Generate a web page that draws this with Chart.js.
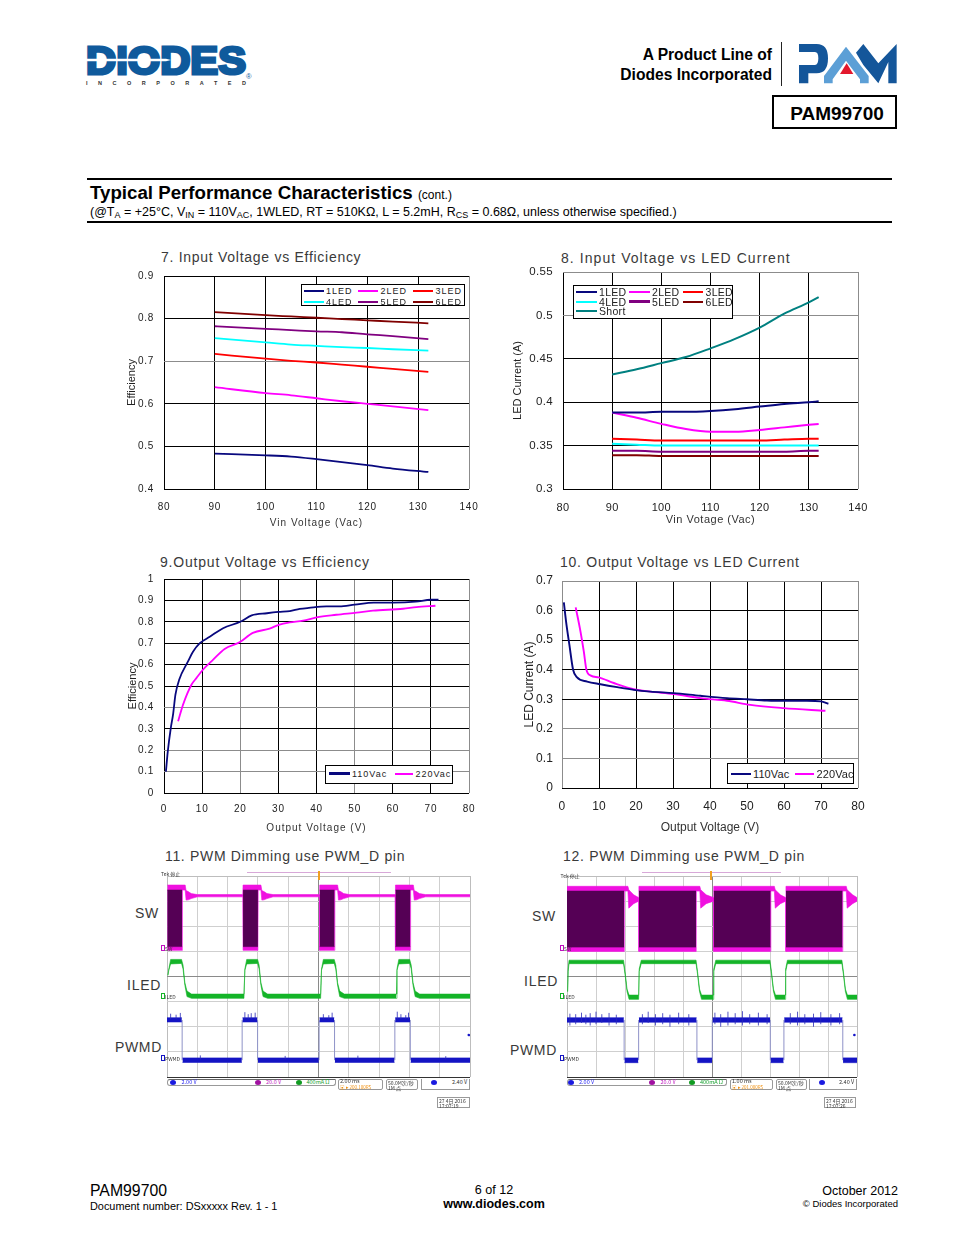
<!DOCTYPE html>
<html><head><meta charset="utf-8">
<script src="https://cdn.jsdelivr.net/npm/chart.js@4"></script>
<style>
html,body{margin:0;padding:0;background:#fff}
body{position:relative;width:954px;height:1235px;overflow:hidden;font-family:"Liberation Sans",Arial,sans-serif;color:#000}
.ct{position:absolute;white-space:nowrap;line-height:1;transform:translateY(-50%);font-size:14px;color:#3a3a3a}
.t{position:absolute;white-space:nowrap;line-height:1;transform:translateY(-50%)}
.r{transform:translate(-100%,-50%)}
.c{transform:translate(-50%,-50%)}
.box{position:absolute;box-sizing:border-box}
canvas{position:absolute;display:block}
.leg{position:absolute;box-sizing:border-box;background:#fff;border:1px solid #000;z-index:5}
.leg i{position:absolute;display:block}
.leg span{position:absolute;line-height:1;white-space:nowrap;transform:translateY(-50%);color:#222}
sub{font-size:9px;vertical-align:baseline;position:relative;top:1.5px}
</style></head>
<body>
<!-- header -->
<svg style="position:absolute;left:0;top:0" width="954" height="140" viewBox="0 0 954 140">
  <text x="86" y="74" font-family="Liberation Sans" font-weight="700" font-size="39" fill="#0f5a9c" stroke="#0f5a9c" stroke-width="3" textLength="160" lengthAdjust="spacingAndGlyphs">DIODES</text>
  <path d="M84,58.7 H166 L171,60 L166,61.3 H84 Z" fill="#fff"/>
  <text x="246" y="79" font-family="Liberation Sans" font-size="7.5" fill="#0f5a9c">®</text>
  <text x="86" y="85" font-family="Liberation Sans" font-weight="700" font-size="5.5" fill="#333" textLength="160">INCORPORATED</text>
  <g transform="translate(600,30) scale(.33333)">
    <path d="M597,42 H650 Q684,42 684,85 Q684,130 650,130 H625 V160 H597 V105 H645 Q655,105 655,85 Q655,66 645,66 H597 Z" fill="#14569a"/>
    <path d="M672,160 V138 L738,50 L806,138 V160 H780 V148 L738,92 L698,148 V160 Z" fill="#5c9fd6"/>
    <path d="M740,100 L760,132 H720 Z" fill="#e3182d"/>
    <path d="M768,68 L790,42 L835,100 L890,42 V160 H865 V96 L835,160 L790,105 Z" fill="#14569a"/>
  </g>
</svg>
<div class="t r" style="left:772px;top:55px;font-size:15.6px;font-weight:700">A Product Line of</div>
<div class="t r" style="left:772px;top:75px;font-size:15.6px;font-weight:700">Diodes Incorporated</div>
<div class="box" style="left:781px;top:42px;width:1px;height:44px;background:#222"></div>
<div class="box" style="left:772px;top:95px;width:125px;height:34px;border:2px solid #000"></div>
<div class="t c" style="left:837px;top:112.5px;font-size:19px;font-weight:700">PAM99700</div>

<div class="box" style="left:87px;top:178px;width:805px;height:2px;background:#000"></div>
<div class="t" style="left:90px;top:193px;font-size:18.7px;font-weight:700">Typical Performance Characteristics <span style="font-size:12px;font-weight:400">(cont.)</span></div>
<div class="t" style="left:90px;top:212px;font-size:12.5px">(@T<sub>A</sub> = +25°C, V<sub>IN</sub> = 110V<sub>AC</sub>, 1WLED, RT = 510KΩ, L = 5.2mH, R<sub>CS</sub> = 0.68Ω, unless otherwise specified.)</div>
<div class="box" style="left:87px;top:221px;width:805px;height:2px;background:#000"></div>

<!-- chart titles -->
<div class="ct" style="left:161px;top:257px;letter-spacing:.72px">7. Input Voltage vs Efficiency</div>
<div class="ct" style="left:561px;top:258px;letter-spacing:1.06px">8. Input Voltage vs LED Current</div>
<div class="ct" style="left:160px;top:562px;letter-spacing:.8px">9.Output Voltage vs Efficiency</div>
<div class="ct" style="left:560px;top:562px;letter-spacing:.73px">10. Output Voltage vs LED Current</div>
<div class="ct" style="left:165px;top:856px;letter-spacing:.67px">11. PWM Dimming use PWM_D pin</div>
<div class="ct" style="left:563px;top:856px;letter-spacing:.7px">12. PWM Dimming use PWM_D pin</div>

<!-- scope side labels -->
<div class="ct r" style="left:159px;top:913px;letter-spacing:.7px">SW</div>
<div class="ct r" style="left:161px;top:985px;letter-spacing:.7px">ILED</div>
<div class="ct r" style="left:162px;top:1047px;letter-spacing:.7px">PWMD</div>
<div class="ct r" style="left:556px;top:916px;letter-spacing:.7px">SW</div>
<div class="ct r" style="left:558px;top:981px;letter-spacing:.7px">ILED</div>
<div class="ct r" style="left:557px;top:1050px;letter-spacing:.7px">PWMD</div>

<!-- footer -->
<div class="t" style="left:90px;top:1191px;font-size:15.8px">PAM99700</div>
<div class="t" style="left:90px;top:1206px;font-size:10.9px">Document number: DSxxxxx Rev. 1 - 1</div>
<div class="t c" style="left:494px;top:1190px;font-size:12.6px">6 of 12</div>
<div class="t c" style="left:494px;top:1204px;font-size:12.5px;font-weight:700">www.diodes.com</div>
<div class="t r" style="left:898px;top:1191px;font-size:12.5px">October 2012</div>
<div class="t r" style="left:898px;top:1204px;font-size:9.5px">© Diodes Incorporated</div>

<script>
/* ---------- chart 7 ---------- */
const x7 = [90,100,105,110,115,120,125,132];
const eff1Led = [.483,.479,.476,.470,.463,.456,.448,.440];
const eff2Led = [.639,.625,.620,.613,.606,.600,.594,.585];
const eff3Led = [.717,.706,.701,.697,.692,.687,.682,.675];
const eff4Led = [.754,.744,.739,.736,.733,.731,.728,.725];
const eff5Led = [.782,.776,.773,.770,.768,.763,.759,.752];
const eff6Led = [.815,.808,.805,.802,.799,.796,.793,.789];
/* ---------- chart 8 ---------- */
const x8 = [90,95,100,105,110,115,120,125,130,132];
const cur1Led = [.388,.388,.389,.389,.390,.392,.395,.398,.400,.401];
const cur2Led = [.388,.382,.375,.369,.366,.366,.368,.371,.374,.375];
const cur3Led = [.358,.357,.356,.356,.356,.356,.356,.357,.358,.358];
const cur4Led = [.352,.351,.350,.350,.350,.350,.350,.350,.350,.350];
const cur5Led = [.344,.344,.343,.343,.343,.343,.343,.343,.344,.344];
const cur6Led = [.339,.339,.338,.338,.338,.338,.338,.338,.338,.338];
const curShort = [.432,.438,.445,.452,.462,.473,.486,.502,.515,.521];
/* ---------- chart 9 ---------- */
const x9a = [.5,1,1.75,2.4,3,4,6.3,7.6,9.4,12,15.5,20,23,27,30,33,35.6,38,42.6,46,50,55,60,66,70,72];
const eff110 = [.10,.195,.30,.37,.46,.53,.615,.66,.70,.73,.77,.80,.83,.84,.846,.85,.86,.865,.872,.872,.88,.89,.89,.894,.903,.903];
const x9b = [3.7,5,7.2,8.5,10.2,12.9,15.9,19.8,23.3,27.7,30.3,33,36.5,40,45.2,50.5,54.8,62.7,66.2,71.2];
const eff220 = [.335,.413,.506,.537,.576,.623,.673,.704,.748,.768,.787,.797,.805,.821,.833,.843,.852,.861,.869,.875];
/* ---------- chart 10 ---------- */
const x10a = [.5,1.1,2,3,4,6.8,10.4,14.9,19.4,23.9,30.2,37.4,44.6,50,55.4,60.8,66.2,70,72];
const cur110 = [.628,.563,.484,.40,.375,.36,.351,.341,.332,.326,.321,.312,.304,.30,.296,.295,.295,.293,.285];
const x10b = [3.7,5,5.9,6.6,7.8,9.9,14,19.4,23.9,30.2,37.4,44.6,50.9,59.9,71.2];
const cur220 = [.611,.529,.461,.40,.38,.374,.355,.334,.326,.318,.304,.295,.281,.27,.261];

/* ---------- scope 11 (x, y in graticule divisions) ---------- */
const sw11X = [.01,.50,.51,.60,.63,.70,.80,1.00,2.50, 2.51,3.00,3.01,3.10,3.13,3.20,3.30,3.50,5.03, 5.04,5.53,5.54,5.63,5.66,5.73,5.83,6.03,7.53, 7.54,8.03,8.04,8.13,8.16,8.23,8.33,8.53,10];
const sw11Top = [7.64,7.64,7.64,7.64,7.42,7.38,7.30,7.26,7.26, 7.64,7.64,7.64,7.64,7.42,7.38,7.30,7.26,7.26, 7.64,7.64,7.64,7.64,7.42,7.38,7.30,7.26,7.26, 7.64,7.64,7.64,7.64,7.42,7.38,7.30,7.26,7.26];
const sw11Bot = [5.04,5.04,7.44,7.44,7.04,7.05,7.10,7.17,7.17, 5.04,5.04,7.44,7.44,7.04,7.05,7.10,7.17,7.17, 5.04,5.04,7.44,7.44,7.04,7.05,7.10,7.17,7.17, 5.04,5.04,7.44,7.44,7.04,7.05,7.10,7.17,7.17];
const dark11X = [.01,.50,.50, 2.51,3.00,3.00, 5.04,5.53,5.53, 7.54,8.03,8.03];
const dark11Hi = [7.44,7.44,null, 7.44,7.44,null, 7.44,7.44,null, 7.44,7.44,null];
const dark11Lo = [5.19,5.19,null, 5.19,5.19,null, 5.19,5.19,null, 5.19,5.19,null];
const led11X = [.03,.06,.12,.48,.53,.59,.66,.81, 2.54,2.57,2.63,2.99,3.04,3.10,3.17,3.32, 5.07,5.10,5.16,5.52,5.57,5.63,5.70,5.85, 7.56,7.59,7.65,8.01,8.06,8.12,8.19,8.34, 10];
const led11Top = [4.05,4.3,4.68,4.68,4.45,3.75,3.42,3.30, 3.30,4.3,4.68,4.68,4.45,3.75,3.42,3.30, 3.30,4.3,4.68,4.68,4.45,3.75,3.42,3.30, 3.30,4.3,4.68,4.68,4.45,3.75,3.42,3.30, 3.30];
const led11Bot = [4.05,4.25,4.50,4.52,4.30,3.65,3.20,3.13, 3.13,4.25,4.50,4.52,4.30,3.65,3.20,3.13, 3.13,4.25,4.50,4.52,4.30,3.65,3.20,3.13, 3.13,4.25,4.50,4.52,4.30,3.65,3.20,3.13, 3.13];
const pwm11X = [0,.49,.49, .51,2.47,2.47, 2.49,2.98,2.98, 3.00,5.01,5.01, 5.03,5.52,5.52, 5.54,7.51,7.51, 7.53,8.02,8.02, 8.04,10,10];
const pwm11Top = [2.36,2.36,null, .76,.76,null, 2.36,2.36,null, .76,.76,null, 2.36,2.36,null, .76,.76,null, 2.36,2.36,null, .76,.76,null];
const pwm11Bot = [2.19,2.19,null, .58,.58,null, 2.19,2.19,null, .58,.58,null, 2.19,2.19,null, .58,.58,null, 2.19,2.19,null, .58,.58,null];
const edge11X = [.5,.5,.5, 2.48,2.48,2.48, 2.99,2.99,2.99, 5.02,5.02,5.02, 5.53,5.53,5.53, 7.52,7.52,7.52, 8.03,8.03,8.03];
const edge11Y = [.67,2.27,null, .67,2.27,null, .67,2.27,null, .67,2.27,null, .67,2.27,null, .67,2.27,null, .67,2.27,null];
const spk11X = [.12,.12,.12, .30,.30,.30, .44,.44,.44, 2.57,2.57,2.57, 2.68,2.68,2.68, 2.78,2.78,2.78, 2.91,2.91,2.91, 5.16,5.16,5.16, 5.34,5.34,5.34, 5.45,5.45,5.45, 7.60,7.60,7.60, 7.72,7.72,7.72, 7.88,7.88,7.88, 7.97,7.97,7.97, 1.1,1.1,1.1, 3.9,3.9,3.9, 6.3,6.3,6.3, 9.2,9.2,9.2];
const spk11Y = [2.3,2.52,null, 2.3,2.48,null, 2.3,2.55,null, 2.3,2.58,null, 2.3,2.5,null, 2.3,2.54,null, 2.3,2.56,null, 2.3,2.5,null, 2.3,2.46,null, 2.3,2.56,null, 2.3,2.6,null, 2.3,2.5,null, 2.3,2.46,null, 2.3,2.56,null, .7,.86,null, .7,.84,null, .7,.85,null, .7,.83,null];
const mark11X = [9.96]; const mark11Y = [1.67];

/* ---------- scope 12 ---------- */
const sw12X = [0,1.97,1.98,2.10,2.13,2.30,2.47, 2.48,4.45,4.46,4.58,4.61,4.80,5.05, 5.06,7.02,7.03,7.15,7.18,7.36,7.54, 7.55,9.50,9.51,9.63,9.66,9.85,10];
const sw12Top = [7.59,7.59,7.59,7.59,7.45,7.25,7.14, 7.59,7.59,7.59,7.59,7.45,7.25,7.14, 7.59,7.59,7.59,7.59,7.45,7.25,7.14, 7.59,7.59,7.59,7.59,7.45,7.25,7.14];
const sw12Bot = [5.00,5.00,7.40,7.40,6.72,6.90,7.00, 5.00,5.00,7.40,7.40,6.72,6.90,7.00, 5.00,5.00,7.40,7.40,6.72,6.90,7.00, 5.00,5.00,7.40,7.40,6.72,6.90,7.00];
const dark12X = [0,1.97,1.97, 2.48,4.45,4.45, 5.06,7.02,7.02, 7.55,9.50,9.50];
const dark12Hi = [7.40,7.40,null, 7.40,7.40,null, 7.40,7.40,null, 7.40,7.40,null];
const dark12Lo = [5.17,5.17,null, 5.17,5.17,null, 5.17,5.17,null, 5.17,5.17,null];
const led12X = [.02,.04,.07,1.95,2.00,2.07,2.14, 2.47,2.49,2.56,4.45,4.50,4.57,4.64, 5.04,5.06,5.13,7.00,7.05,7.12,7.19, 7.52,7.54,7.60,9.48,9.53,9.60,9.67, 10];
const led12Top = [3.4,4.3,4.65,4.65,4.2,3.5,3.26, 3.26,4.3,4.65,4.65,4.2,3.5,3.26, 3.26,4.3,4.65,4.65,4.2,3.5,3.26, 3.26,4.3,4.65,4.65,4.2,3.5,3.26, 3.26];
const led12Bot = [3.4,4.2,4.51,4.51,4.1,3.4,3.09, 3.09,4.2,4.51,4.51,4.1,3.4,3.09, 3.09,4.2,4.51,4.51,4.1,3.4,3.09, 3.09,4.2,4.51,4.51,4.1,3.4,3.09, 3.09];
const pwm12X = [0,1.96,1.96, 1.98,2.46,2.46, 2.48,4.47,4.47, 4.49,5.00,5.00, 5.02,7.00,7.00, 7.02,7.47,7.47, 7.49,9.50,9.50, 9.52,10,10];
const pwm12Top = [2.36,2.36,null, .76,.76,null, 2.36,2.36,null, .76,.76,null, 2.36,2.36,null, .76,.76,null, 2.36,2.36,null, .76,.76,null];
const pwm12Bot = [2.18,2.18,null, .57,.57,null, 2.18,2.18,null, .57,.57,null, 2.18,2.18,null, .57,.57,null, 2.18,2.18,null, .57,.57,null];
const edge12X = [1.97,1.97,1.97, 2.47,2.47,2.47, 4.48,4.48,4.48, 5.01,5.01,5.01, 7.01,7.01,7.01, 7.48,7.48,7.48, 9.51,9.51,9.51];
const edge12Y = [.67,2.27,null, .67,2.27,null, .67,2.27,null, .67,2.27,null, .67,2.27,null, .67,2.27,null, .67,2.27,null];
const spk12X = [.1,.1,.1, .3,.3,.3, .5,.5,.5, .65,.65,.65, .8,.8,.8, 1.0,1.0,1.0, 1.2,1.2,1.2, 1.45,1.45,1.45, 1.7,1.7,1.7, 2.6,2.6,2.6, 2.8,2.8,2.8, 3.05,3.05,3.05, 3.3,3.3,3.3, 3.55,3.55,3.55, 3.85,3.85,3.85, 4.2,4.2,4.2, 5.1,5.1,5.1, 5.3,5.3,5.3, 5.55,5.55,5.55, 5.8,5.8,5.8, 6.05,6.05,6.05, 6.3,6.3,6.3, 6.6,6.6,6.6, 6.9,6.9,6.9, 7.7,7.7,7.7, 7.95,7.95,7.95, 8.2,8.2,8.2, 8.5,8.5,8.5, 8.75,8.75,8.75, 9.1,9.1,9.1, 9.4,9.4,9.4];
const spk12Y = [2.05,2.52,null, 2.1,2.5,null, 2.15,2.56,null, 2.1,2.48,null, 2.05,2.54,null, 2.1,2.6,null, 2.15,2.5,null, 2.05,2.55,null, 2.1,2.48,null, 2.1,2.5,null, 2.15,2.6,null, 2.05,2.5,null, 2.1,2.54,null, 2.0,2.48,null, 2.1,2.56,null, 2.05,2.5,null, 2.1,2.56,null, 2.0,2.5,null, 2.05,2.6,null, 2.1,2.54,null, 2.05,2.62,null, 2.1,2.5,null, 2.05,2.56,null, 2.1,2.5,null, 2.1,2.54,null, 2.05,2.6,null, 2.1,2.5,null, 2.0,2.52,null, 2.1,2.58,null, 2.05,2.5,null, 2.1,2.54,null];
const mark12X = [9.91]; const mark12Y = [1.67];

/* ---------- styles ---------- */
const NAVY='#08087e', MAG='#ff00ff', RED='#ff0000', CYAN='#00ffff', PURP='#800080', DRED='#800000', TEAL='#008080';
const FONT='"Liberation Sans", Arial, sans-serif';
Chart.defaults.animation=false;
Chart.defaults.font.family=FONT;

const zip=(xs,ys)=>xs.map((x,i)=>({x,y:ys[i]}));
const near=(list,v)=>list.some(a=>Math.abs(a-v)<1e-6);

function mkCanvas(l,t,w,h){
  const c=document.createElement('canvas');
  c.width=w;c.height=h;c.style.left=l+'px';c.style.top=t+'px';c.style.width=w+'px';c.style.height=h+'px';
  document.body.appendChild(c);return c;
}
const spacingPlugin=sp=>({id:'sp',beforeDraw(ch){ch.ctx.letterSpacing=sp+'px';}});
/* per-scale title letter spacing */
function titleSpacing(s,sp){
  if(s._tsp)return; s._tsp=true;
  const d=s.drawTitle.bind(s);
  s.drawTitle=(...a)=>{const c=s.ctx,p=c.letterSpacing;c.letterSpacing=sp+'px';d(...a);c.letterSpacing=p;};
}

function lineChart(o){
  const [pl,pt,pr,pb]=o.plot;
  const cl=Math.round(o.yTitleX-o.yTitleSize*.6), cb=Math.round(o.xTitleY+o.xTitleSize*.6);
  const ct=pt-20, cr=pr+26;
  const ds=o.series.map(s=>({label:s.n,data:zip(s.x,s.y),borderColor:s.c,borderWidth:s.w||o.lw||1.6,pointRadius:0,cubicInterpolationMode:'monotone',fill:false}));
  const ch=new Chart(mkCanvas(cl,ct,cr-cl,cb-ct),{
    type:'line',
    data:{datasets:ds},
    plugins:[spacingPlugin(o.sp||0)],
    options:{responsive:false,maintainAspectRatio:false,
      layout:{autoPadding:false,padding:{top:pt-ct,right:cr-pr,left:0,bottom:0}},
      plugins:{legend:{display:false},tooltip:{enabled:false}},
      scales:{
        x:{type:'linear',min:o.xr[0],max:o.xr[1],
          afterFit:s=>{s.height=cb-pb;titleSpacing(s,o.xTitleSp||0);},
          border:{display:false},
          grid:{drawTicks:false,lineWidth:1,color:c=>near(o.greyX||[],c.tick.value)?'#8c8c8c':'#000'},
          ticks:{stepSize:10,autoSkip:false,maxRotation:0,padding:o.xPad,color:'#222',font:{size:o.tick}},
          title:{display:true,text:o.xTitle,color:'#333',padding:0,font:{size:o.xTitleSize}}},
        y:{type:'linear',min:o.yr[0],max:o.yr[1],
          afterFit:s=>{s.width=pl-cl;titleSpacing(s,0);},
          border:{display:false},
          grid:{drawTicks:false,lineWidth:1,color:c=>near(o.greyY||[],c.tick.value)?'#8c8c8c':'#000'},
          ticks:{stepSize:o.yStep,autoSkip:false,padding:o.yPad,color:'#222',font:{size:o.yTick||o.tick},callback:v=>String(+(+v).toFixed(2))},
          title:{display:true,text:o.yTitle,color:'#222',padding:0,font:{size:o.yTitleSize}}}
      }}
  });
  /* the layout reserves extra room for the top tick label: correct the padding to hit the plot top */
  const want=pt-ct;
  for(let i=0;i<4;i++){
    const diff=ch.scales.y.getPixelForValue(o.yr[1])-want;
    if(Math.abs(diff)<.01)break;
    ch.options.layout.padding.top-=diff;
    ch.update();
  }
}
function legend(o){
  const d=document.createElement('div');d.className='leg';
  d.style.cssText=`left:${o.l}px;top:${o.t}px;width:${o.w}px;height:${o.h}px`;
  o.items.forEach(it=>{
    const i=document.createElement('i');
    i.style.cssText=`left:${it.x0-o.l-1}px;width:${it.x1-it.x0}px;top:${it.y-o.t-1-(it.lw||2)/2}px;height:${it.lw||2}px;background:${it.c}`;
    d.appendChild(i);
    const s=document.createElement('span');s.textContent=it.n;
    s.style.cssText=`left:${it.x1+2.5-o.l-1}px;top:${it.y-o.t-1}px;font-size:${o.size}px;letter-spacing:${o.sp||0}px`;
    d.appendChild(s);
  });
  document.body.appendChild(d);
}

lineChart({plot:[164,276,469,489],xr:[80,140],yr:[.4,.9],yStep:.1,tick:10,sp:.7,xPad:12,yPad:10,lw:1.8,
  xTitle:'Vin Voltage (Vac)',xTitleSize:10,xTitleY:523,xTitleSp:1,yTitle:'Efficiency',yTitleSize:11,yTitleX:131.7,greyY:[.7],greyX:[140],
  series:[{n:'1LED',x:x7,y:eff1Led,c:NAVY},{n:'2LED',x:x7,y:eff2Led,c:MAG},{n:'3LED',x:x7,y:eff3Led,c:RED},{n:'4LED',x:x7,y:eff4Led,c:CYAN},{n:'5LED',x:x7,y:eff5Led,c:PURP},{n:'6LED',x:x7,y:eff6Led,c:DRED}]});
lineChart({plot:[563,272,858,489],xr:[80,140],yr:[.3,.55],yStep:.05,tick:11,yTick:11.5,sp:.35,xPad:12.4,yPad:10,lw:2,
  xTitle:'Vin Votage (Vac)',xTitleSize:11,xTitleY:520,xTitleSp:.5,yTitle:'LED Current (A)',yTitleSize:11,yTitleX:518,greyY:[.55,.5],greyX:[140],
  series:[{n:'1LED',x:x8,y:cur1Led,c:NAVY},{n:'2LED',x:x8,y:cur2Led,c:MAG},{n:'3LED',x:x8,y:cur3Led,c:RED},{n:'4LED',x:x8,y:cur4Led,c:CYAN},{n:'5LED',x:x8,y:cur5Led,c:PURP},{n:'6LED',x:x8,y:cur6Led,c:DRED},{n:'Short',x:x8,y:curShort,c:TEAL}]});
lineChart({plot:[164,579,469,793],xr:[0,80],yr:[0,1],yStep:.1,tick:10,sp:.7,xPad:10,yPad:10,lw:1.8,
  xTitle:'Output Voltage (V)',xTitleSize:10,xTitleY:828,xTitleSp:1,yTitle:'Efficiency',yTitleSize:11,yTitleX:132.7,greyX:[20,50,80],greyY:[.4,.2,.1],
  series:[{n:'110Vac',x:x9a,y:eff110,c:NAVY},{n:'220Vac',x:x9b,y:eff220,c:MAG}]});
lineChart({plot:[562,581,858,788],xr:[0,80],yr:[0,.7],yStep:.1,tick:12,sp:.1,xPad:11.5,yPad:9,lw:1.9,
  xTitle:'Output Voltage (V)',xTitleSize:12,xTitleY:828,xTitleSp:0,yTitle:'LED Current (A)',yTitleSize:12,yTitleX:529.3,greyX:[0,80],greyY:[.7,.2,.1],
  series:[{n:'110Vac',x:x10a,y:cur110,c:NAVY},{n:'220Vac',x:x10b,y:cur220,c:MAG}]});

legend({l:301,t:284,w:164,h:22,size:9,sp:1,items:[
 {n:'1LED',x0:304,x1:323.5,y:291,c:NAVY,lw:2.5},{n:'2LED',x0:358,x1:378,y:291,c:MAG},{n:'3LED',x0:413,x1:433,y:291,c:RED},
 {n:'4LED',x0:304,x1:323.5,y:301.5,c:CYAN},{n:'5LED',x0:358,x1:378,y:301.5,c:PURP},{n:'6LED',x0:413,x1:433,y:301.5,c:DRED}]});
legend({l:573,t:285,w:160,h:34,size:10.5,sp:.3,items:[
 {n:'1LED',x0:576,x1:596.5,y:292,c:NAVY,lw:2.5},{n:'2LED',x0:629,x1:649.5,y:292,c:MAG},{n:'3LED',x0:683,x1:703,y:292,c:RED},
 {n:'4LED',x0:576,x1:596.5,y:301.5,c:CYAN},{n:'5LED',x0:629,x1:649.5,y:301.5,c:PURP,lw:2.5},{n:'6LED',x0:683,x1:703,y:301.5,c:DRED},
 {n:'Short',x0:576,x1:596.5,y:311,c:TEAL}]});
legend({l:325,t:765,w:128,h:19,size:9,sp:1,items:[
 {n:'110Vac',x0:329,x1:349.5,y:773.5,c:NAVY,lw:2.5},{n:'220Vac',x0:395,x1:413,y:773.5,c:MAG}]});
legend({l:727,t:763,w:127,h:21,size:11,sp:.1,items:[
 {n:'110Vac',x0:731,x1:750.5,y:774,c:NAVY,lw:2.5},{n:'220Vac',x0:795,x1:814,y:774,c:MAG}]});

function scope(o){
  const [pl,pt,pr,pb]=o.plot, cl=pl-1, ct=pt-1, w=pr-pl+2, h=pb-pt+2;
  const base={pointRadius:0,tension:0,spanGaps:false};
  const band=(xs,top,bot,c)=>[
    {...base,data:zip(xs,top),borderColor:c,borderWidth:.6,fill:'+1',backgroundColor:c},
    {...base,data:zip(xs,bot),borderColor:c,borderWidth:.6,fill:false}];
  const datasets=[
    {...base,data:zip(o.markX,o.markY),showLine:false,pointRadius:1.3,pointBackgroundColor:'#1414c8',pointBorderWidth:0},
    {...base,data:zip(o.spkX,o.spkY),borderColor:'#2a2ab8',borderWidth:.8,fill:false},
    ...band(o.pwmX,o.pwmTop,o.pwmBot,'#1414c4'),
    {...base,data:zip(o.edgeX,o.edgeY),borderColor:'#8e92c8',borderWidth:1,fill:false},
    ...band(o.ledX,o.ledTop,o.ledBot,'#14b428'),
    ...band(o.darkX,o.darkHi,o.darkLo,'#550055'),
    ...band(o.swX,o.swTop,o.swBot,'#f010e0')
  ];
  new Chart(mkCanvas(cl,ct,w,h),{
    type:'line',data:{datasets},
    options:{responsive:false,maintainAspectRatio:false,
      layout:{autoPadding:false,padding:{left:1,right:1,top:1,bottom:1}},
      plugins:{legend:{display:false},tooltip:{enabled:false}},
      scales:{
        x:{type:'linear',min:0,max:10,afterFit:s=>{s.height=0;},border:{display:false},
          ticks:{display:false,stepSize:1,autoSkip:false},
          grid:{drawTicks:false,lineWidth:1,color:c=>c.tick.value===5?'#8a8a8a':(c.tick.value===0||c.tick.value===10?'#bdbdbd':'#cfcfcf'),
                borderDash:c=>(c.tick.value===5||c.tick.value===0||c.tick.value===10)?[]:[1,14]}},
        y:{type:'linear',min:0,max:8,afterFit:s=>{s.width=0;},border:{display:false},
          ticks:{display:false,stepSize:1,autoSkip:false},
          grid:{drawTicks:false,lineWidth:1,color:c=>c.tick.value===0?'#333':(c.tick.value===8?'#bdbdbd':(c.tick.value===4?'#8a8a8a':'#cfcfcf')),
                borderDash:c=>(c.tick.value===0||c.tick.value===8)?[]:(c.tick.value===4?[1,3]:[1,14])}}
      }}
  });
}
scope({plot:[167,876,470,1077],swX:sw11X,swTop:sw11Top,swBot:sw11Bot,darkX:dark11X,darkHi:dark11Hi,darkLo:dark11Lo,ledX:led11X,ledTop:led11Top,ledBot:led11Bot,
  pwmX:pwm11X,pwmTop:pwm11Top,pwmBot:pwm11Bot,edgeX:edge11X,edgeY:edge11Y,spkX:spk11X,spkY:spk11Y,markX:mark11X,markY:mark11Y});
scope({plot:[567,876,857,1077],swX:sw12X,swTop:sw12Top,swBot:sw12Bot,darkX:dark12X,darkHi:dark12Hi,darkLo:dark12Lo,ledX:led12X,ledTop:led12Top,ledBot:led12Bot,
  pwmX:pwm12X,pwmTop:pwm12Top,pwmBot:pwm12Bot,edgeX:edge12X,edgeY:edge12Y,spkX:spk12X,spkY:spk12Y,markX:mark12X,markY:mark12Y});

/* scope annotations */
function tiny(x,y,s,c,size){const d=document.createElement('div');d.className='t';d.textContent=s;
  d.style.cssText=`left:${x}px;top:${y}px;font-size:${size||5.5}px;color:${c||'#333'};z-index:6;font-family:"Noto Sans CJK SC","Liberation Sans",sans-serif`;document.body.appendChild(d);}
function rect(x,y,w,h,css){const d=document.createElement('div');d.className='box';d.style.cssText=`left:${x}px;top:${y}px;width:${w}px;height:${h}px;z-index:6;${css}`;document.body.appendChild(d);}
function status(o){
  rect(o.trig[0],872,o.trig[1]-o.trig[0],1,'background:#d8a8d8');
  rect(o.mid-1,871,2,9,'background:#f0a020');
  tiny(o.tek,o.tekY,'Tek 停止','#333',5);
  [['SW',948],['ILED',996],['PWMD',1058]].forEach(([s,y],i)=>{
    rect(o.lab,y-3,3.5,6,`border:.5px solid ${['#c010c0','#14b428','#1414c4'][i]}`);
    tiny(o.lab+4,y,s,'#333',5);});
  rect(o.b1[0],1079,o.b1[1]-o.b1[0],6.5,'border:1px solid #999;border-top:1px solid #666;border-radius:0 0 3px 3px;border-top-left-radius:3px');
  rect(o.b2[0],1079,o.b2[1]-o.b2[0],10.5,'border:1px solid #999;border-radius:2px');
  rect(o.b3[0],1079,o.b3[1]-o.b3[0],10.5,'border:1px solid #999;border-radius:2px');
  rect(o.b4[0],1079,o.b4[1]-o.b4[0],10.5,'border-left:1px solid #999;border-bottom:1px solid #999;border-right:1px solid #999');
  rect(o.b5[0],1097,o.b5[1]-o.b5[0],10.5,'border:1px solid #999');
  o.ov.forEach((x,i)=>rect(x-3,1079.5,6,5,`border-radius:50%;background:${['#1a1ae0','#a010a0','#109a20','#1a1ae0'][i]}`));
  tiny(o.tx[0],1082.5,'2.00 V','#2a2af0');tiny(o.tx[1],1082.5,'20.0 V','#c020c0');tiny(o.tx[2],1082.5,o.ma,'#18a030');tiny(o.tx[3],1082.5,'2.40 V','#333');
  tiny(o.b2[0]+2,1082,o.time,'#333');tiny(o.b2[0]+2,1086.5,o.pos,'#f09010',4.5);
  tiny(o.b3[0]+2,1082,'50.0M次/秒','#333',5);tiny(o.b3[0]+2,1086.5,'1M 点','#333',5);
  tiny(o.b5[0]+2,1099.8,o.d1,'#333',5);tiny(o.b5[0]+2,1104.8,o.d2,'#333',5);
}
status({trig:[247,391],mid:319,tek:161,tekY:873,lab:161,b1:[167,336],b2:[338,383],b3:[386,418],b4:[421,470],b5:[437,470],ov:[173,258,299,434],tx:[181.5,266,306.5,452],
  ma:'400mA Ω',time:'2.00 ms',pos:'▣ ▸ 200.100RS',d1:'27 4日 2016',d2:'17:07:19'});
status({trig:[642,781],mid:711,tek:560.5,tekY:874.5,lab:560,b1:[567,727],b2:[730,773],b3:[776,807],b4:[809,857],b5:[824,856],ov:[571,652,692,822],tx:[579,660.5,700,839],
  ma:'400mA Ω',time:'1.00 ms',pos:'▣ ▸ 201.000RS',d1:'27 4日 2016',d2:'17:07:26'});
</script>
</body></html>
